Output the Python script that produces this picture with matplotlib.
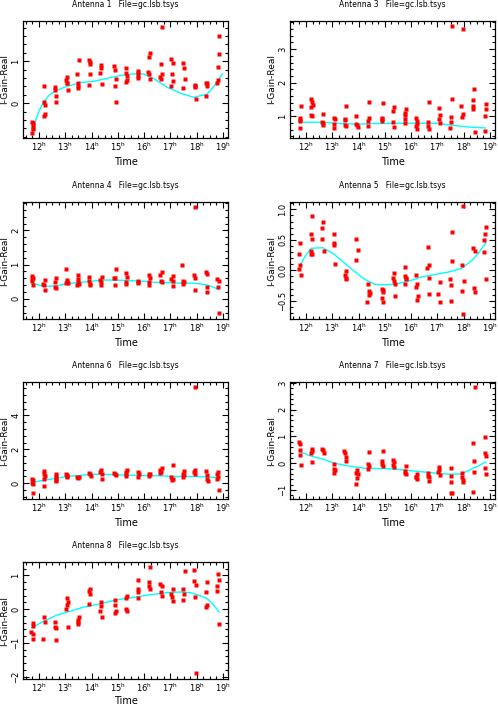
import matplotlib
matplotlib.use("Agg")
import matplotlib.pyplot as plt
from matplotlib.ticker import MultipleLocator, AutoMinorLocator

# ---- data (time in hours, gain) ----
t1 = [11.73, 11.77, 11.76, 11.78, 11.73, 11.77,
      12.19, 12.17, 12.23, 12.22, 12.17,
      12.61, 12.62, 12.65, 12.65,
      13.08, 13.03, 13.07, 13.10, 13.06,
      13.53, 13.45, 13.48, 13.50, 13.49,
      13.90, 13.95, 13.94, 13.94, 13.91,
      14.36, 14.37, 14.32, 14.38,
      14.87, 14.88, 14.92, 14.89, 14.92,
      15.32, 15.30, 15.36, 15.31, 15.34,
      15.76, 15.77, 15.76, 15.78,
      16.22, 16.18, 16.15, 16.19, 16.24,
      16.66, 16.64, 16.66, 16.60, 16.64,
      17.04, 17.10, 17.07, 17.10, 17.03,
      17.49, 17.52, 17.54, 17.48,
      17.92, 17.94, 17.97, 17.92,
      18.36, 18.38, 18.37, 18.39,
      18.84, 18.83, 18.80, 18.80, 18.76]
v1 = [-0.44, -0.48, -0.58, -0.62, -0.71, -0.52,
      0.41, 0.02, -0.05, -0.25, -0.31,
      0.39, 0.32, 0.16, 0.02,
      0.62, 0.56, 0.49, 0.32, 0.48,
      1.02, 0.70, 0.48, 0.41, 0.37,
      1.02, 0.98, 0.94, 0.70, 0.44,
      0.91, 0.83, 0.72, 0.46,
      0.88, 0.78, 0.58, 0.41, 0.03,
      0.83, 0.73, 0.56, 0.50, 0.65,
      0.77, 0.73, 0.64, 0.59,
      1.19, 1.10, 0.75, 0.70, 0.57,
      1.81, 0.94, 0.70, 0.63, 0.57,
      1.05, 0.96, 0.70, 0.52, 0.40,
      0.97, 0.85, 0.57, 0.36,
      0.44, 0.38, 0.11, 0.41,
      0.47, 0.42, 0.17, 0.48,
      1.60, 1.17, 0.87, 0.56, 0.48]
fit1_t = [11.73, 11.83, 12.0, 12.19, 12.4, 12.62, 13.0, 13.55, 14.06, 14.57,
          15.08, 15.59, 15.97, 16.36, 16.87, 17.38, 17.89, 18.14, 18.39, 18.65, 18.98]
fit1_v = [-0.70, -0.48, -0.18, 0.04, 0.20, 0.29, 0.39, 0.49, 0.52, 0.59,
          0.66, 0.70, 0.70, 0.59, 0.38, 0.24, 0.14, 0.18, 0.21, 0.40, 0.70]

t3 = [11.76, 11.77, 11.78, 11.81, 11.77,
      12.17, 12.22, 12.25, 12.19, 12.19, 12.23,
      12.64, 12.62, 12.65, 12.66,
      13.07, 13.11, 13.07, 13.06,
      13.52, 13.50, 13.48, 13.49, 13.52,
      13.92, 13.92, 13.96, 13.95,
      14.38, 14.41, 14.36, 14.37,
      14.94, 14.90, 14.88, 14.90,
      15.36, 15.32, 15.32, 15.35,
      15.82, 15.76, 15.78, 15.75, 15.77,
      16.20, 16.23, 16.19, 16.24, 16.23,
      16.66, 16.64, 16.65, 16.68,
      17.06, 17.08, 17.06, 17.10,
      17.54, 17.54, 17.50, 17.50, 17.48,
      17.99, 17.91, 17.96, 17.92,
      18.39, 18.36, 18.37, 18.36, 18.42,
      18.85, 18.83, 18.80, 18.80]
v3 = [0.90, 0.94, 0.86, 1.30, 0.64,
      1.52, 1.42, 1.34, 1.26, 1.04, 1.02,
      1.06, 0.84, 0.74, 0.79,
      0.94, 0.91, 0.78, 0.66,
      1.30, 0.92, 0.89, 0.74, 0.70,
      1.01, 0.77, 0.68, 0.73,
      1.42, 0.95, 0.86, 0.72,
      1.40, 0.94, 0.86, 0.92,
      1.27, 1.16, 0.84, 0.68,
      1.22, 1.10, 1.05, 0.92, 0.81,
      0.94, 0.86, 0.72, 0.63, 0.76,
      1.42, 0.84, 0.72, 0.62,
      1.24, 1.04, 0.91, 0.80,
      3.69, 1.52, 0.97, 0.84, 0.66,
      3.61, 1.31, 1.08, 0.97,
      1.81, 1.48, 1.30, 1.22, 0.52,
      1.36, 1.22, 1.00, 0.57]
fit3_t = [11.75, 11.81, 12.7, 13.06, 13.96, 14.47, 15.49, 17.02, 17.40, 17.92, 18.3, 18.82]
fit3_v = [0.80, 0.82, 0.82, 0.79, 0.76, 0.78, 0.79, 0.79, 0.74, 0.70, 0.67, 0.65]

t4 = [11.73, 11.76, 11.75, 11.72, 11.78,
      12.15, 12.20, 12.22, 12.23,
      12.65, 12.62, 12.61, 12.64,
      13.04, 13.06, 13.08, 13.02, 13.12,
      13.48, 13.50, 13.49, 13.52, 13.45,
      13.92, 13.91, 13.95, 13.94,
      14.39, 14.33, 14.36, 14.37,
      14.92, 14.89, 14.88, 14.87,
      15.32, 15.35, 15.31, 15.30,
      15.76, 15.78, 15.75,
      16.19, 16.23, 16.20, 16.18,
      16.66, 16.62, 16.64, 16.68,
      17.08, 17.04, 17.10, 17.08,
      17.45, 17.49, 17.53, 17.49,
      17.94, 17.91, 17.95, 17.94,
      18.36, 18.39, 18.38, 18.39,
      18.79, 18.83, 18.82, 18.84]
v4 = [0.67, 0.60, 0.52, 0.57, 0.39,
      0.44, 0.41, 0.54, 0.27,
      0.61, 0.49, 0.35, 0.31,
      0.86, 0.54, 0.49, 0.46, 0.47,
      0.70, 0.57, 0.49, 0.43, 0.41,
      0.63, 0.52, 0.44, 0.41,
      0.64, 0.54, 0.49, 0.41,
      0.86, 0.62, 0.41, 0.60,
      0.75, 0.65, 0.50, 0.43,
      0.52, 0.49, 0.45,
      0.70, 0.61, 0.49, 0.41,
      0.77, 0.69, 0.52, 0.50,
      0.67, 0.57, 0.52, 0.37,
      0.99, 0.51, 0.48, 0.43,
      2.68, 0.71, 0.60, 0.25,
      0.79, 0.72, 0.35, 0.19,
      0.57, 0.52, 0.35, -0.42]
fit4_t = [11.73, 12.15, 12.6, 13.04, 13.55, 14.06, 14.57, 15.2, 15.83, 16.47, 17.24, 17.87, 18.37, 18.84]
fit4_v = [0.46, 0.37, 0.37, 0.44, 0.48, 0.52, 0.55, 0.54, 0.52, 0.48, 0.46, 0.46, 0.41, 0.28]

t5 = [11.73, 11.77, 11.75, 11.81, 11.78,
      12.23, 12.18, 12.22, 12.20, 12.24, 12.17,
      12.65, 12.62, 12.61, 12.68,
      13.08, 13.06, 13.07, 13.11,
      13.52, 13.48, 13.53, 13.52,
      13.92, 13.97, 13.92,
      14.37, 14.39, 14.42, 14.41, 14.33,
      14.88, 14.93, 14.90, 14.94, 14.92,
      15.35, 15.32, 15.34, 15.38, 15.38,
      15.77, 15.75, 15.80, 15.82, 15.77,
      16.20, 16.22, 16.19, 16.25, 16.23,
      16.64, 16.66, 16.62, 16.66, 16.68,
      17.04, 17.11, 17.08,
      17.54, 17.57, 17.48, 17.52, 17.50,
      17.97, 17.92, 18.00, 17.94, 17.96,
      18.36, 18.41, 18.38, 18.41,
      18.85, 18.82, 18.79, 18.79, 18.84]
v5 = [0.02, 0.45, 0.27, -0.08, 0.09,
      0.89, 0.59, 0.51, 0.27, 0.26, 0.32,
      0.79, 0.69, 0.52, 0.32,
      0.59, 0.45, 0.41, 0.11,
      -0.02, -0.08, -0.12, -0.14,
      0.52, 0.34, 0.17,
      -0.22, -0.34, -0.37, -0.41, -0.52,
      -0.31, -0.36, -0.45, -0.52, -0.33,
      -0.04, -0.12, -0.17, -0.22, -0.43,
      0.05, -0.09, -0.13, -0.15, -0.22,
      -0.08, -0.22, -0.27, -0.42, -0.48,
      0.38, 0.09, 0.04, -0.13, -0.39,
      -0.39, -0.19, -0.52,
      0.62, 0.16, -0.15, -0.24, -0.51,
      1.06, 0.09, -0.18, -0.34, -0.72,
      0.37, 0.32, -0.29, -0.35,
      0.71, 0.59, 0.49, 0.30, -0.15]
fit5_t = [11.75, 11.94, 12.19, 12.64, 13.08, 13.46, 13.85, 14.23, 14.61, 14.87,
          15.38, 15.89, 16.39, 16.90, 17.41, 17.92, 18.31, 18.56, 18.84]
fit5_v = [0.06, 0.21, 0.36, 0.37, 0.26, 0.12, -0.02, -0.15, -0.23, -0.24,
          -0.23, -0.18, -0.11, -0.07, -0.03, 0.03, 0.16, 0.28, 0.45]

t6 = [11.73, 11.77, 11.75, 11.78, 11.78,
      12.19, 12.18, 12.23, 12.19, 12.17,
      12.64, 12.65, 12.64, 12.66, 12.65,
      13.03, 13.08, 13.08, 13.06,
      13.46, 13.50, 13.53,
      13.91, 13.95, 13.96,
      14.36, 14.33, 14.38, 14.41,
      14.85, 14.89, 14.92,
      15.35, 15.31, 15.30, 15.32,
      15.75, 15.80, 15.78,
      16.19, 16.23, 16.20,
      16.66, 16.62, 16.65, 16.61,
      17.10, 17.04, 17.08, 17.07,
      17.50, 17.48, 17.52, 17.49,
      17.95, 17.94, 17.91, 17.95,
      18.36, 18.39, 18.39, 18.41,
      18.82, 18.78, 18.80, 18.79, 18.84]
v6 = [0.24, 0.16, 0.0, -0.08, -0.59,
      0.71, 0.51, 0.43, 0.27, -0.20,
      0.51, 0.43, 0.31, 0.12, 0.20,
      0.55, 0.47, 0.39, 0.41,
      0.39, 0.33, 0.37,
      0.59, 0.51, 0.43,
      0.78, 0.67, 0.55, 0.27,
      0.59, 0.53, 0.49,
      0.75, 0.67, 0.55, 0.43,
      0.67, 0.51, 0.39,
      0.55, 0.51, 0.43,
      0.90, 0.78, 0.67, 0.59,
      1.08, 0.39, 0.27, 0.20,
      0.71, 0.55, 0.47, 0.35,
      5.69, 0.78, 0.67, 0.55,
      0.71, 0.47, 0.24, 0.12,
      0.67, 0.55, 0.39, 0.24, -0.39]
fit6_t = [11.73, 12.15, 12.6, 13.04, 13.55, 14.06, 14.69, 15.32, 15.96, 16.6, 17.24, 17.87, 18.38, 18.84]
fit6_v = [0.04, 0.16, 0.27, 0.39, 0.45, 0.53, 0.51, 0.47, 0.45, 0.43, 0.39, 0.39, 0.37, 0.31]

t7 = [11.72, 11.77, 11.76, 11.77, 11.81,
      12.23, 12.22, 12.19, 12.23,
      12.62, 12.65, 12.68,
      13.06, 13.08, 13.11, 13.07,
      13.45, 13.50, 13.52, 13.53,
      13.94, 13.92, 13.96, 13.94, 13.92,
      14.38, 14.37, 14.39, 14.36,
      14.94, 14.90, 14.88, 14.92,
      15.30, 15.34, 15.31, 15.36,
      15.82, 15.75, 15.77, 15.81,
      16.22, 16.20, 16.18, 16.24,
      16.65, 16.64, 16.66, 16.69,
      17.07, 17.06, 17.03, 17.11,
      17.50, 17.50, 17.53, 17.52, 17.55,
      17.94, 17.95, 17.97, 17.99,
      18.43, 18.37, 18.38, 18.39, 18.36,
      18.80, 18.80, 18.84, 18.82, 18.85]
v7 = [0.80, 0.71, 0.50, 0.32, -0.05,
      0.55, 0.47, 0.37, 0.04,
      0.55, 0.50, 0.37,
      -0.04, -0.22, -0.27, -0.35,
      0.46, 0.37, 0.22, 0.07,
      -0.25, -0.35, -0.42, -0.56, -0.77,
      0.43, -0.02, -0.12, -0.22,
      0.47, 0.09, -0.02, -0.12,
      0.12, 0.05, -0.06, -0.15,
      -0.10, -0.30, -0.35, -0.40,
      -0.40, -0.50, -0.53, -0.60,
      -0.37, -0.47, -0.53, -0.66,
      -0.15, -0.27, -0.32, -0.45,
      -0.19, -0.47, -0.70, -1.12, -1.12,
      -0.35, -0.50, -0.62, -0.72,
      2.86, 0.77, 0.07, -0.32, -1.08,
      0.97, 0.37, 0.27, -0.19, -0.40]
fit7_t = [11.75, 12.19, 12.64, 13.08, 13.59, 14.23, 14.87, 15.38, 15.89, 16.39,
          16.90, 17.41, 17.92, 18.31, 18.56, 18.84]
fit7_v = [0.43, 0.27, 0.15, 0.0, -0.10, -0.19, -0.20, -0.22, -0.27, -0.32,
          -0.37, -0.41, -0.40, -0.21, -0.10, 0.05]

t8 = [11.76, 11.71, 11.76, 11.78, 11.76,
      12.18, 12.24, 12.15,
      12.61, 12.60, 12.65, 12.66,
      13.06, 13.10, 13.06, 13.04, 13.10,
      13.53, 13.50, 13.48, 13.50,
      13.94, 13.91, 13.95, 13.92,
      14.36, 14.37, 14.32, 14.39,
      14.90, 14.88, 14.92, 14.89,
      15.34, 15.31, 15.30, 15.34,
      15.76, 15.78, 15.77, 15.75,
      16.23, 16.17, 16.20, 16.22,
      16.62, 16.66, 16.65, 16.68,
      17.10, 17.04, 17.07, 17.10,
      17.54, 17.49, 17.50, 17.46,
      17.91, 17.91, 17.96, 17.94, 17.97,
      18.39, 18.36, 18.38, 18.36,
      18.80, 18.83, 18.76, 18.79, 18.84]
v8 = [-0.42, -0.69, -0.73, -0.87, -0.49,
      -0.24, -0.37, -0.88,
      -0.39, -0.54, -0.57, -0.91,
      0.33, 0.22, 0.12, 0.0, -0.52,
      -0.24, -0.32, -0.39, -0.43,
      0.59, 0.53, 0.45, 0.15,
      0.21, 0.10, -0.06, -0.22,
      0.28, 0.12, -0.06, -0.10,
      0.38, 0.33, 0.0, -0.06,
      0.86, 0.59, 0.51, 0.32,
      1.24, 0.81, 0.69, 0.59,
      0.76, 0.69, 0.51, 0.39,
      0.59, 0.45, 0.37, 0.24,
      1.12, 0.61, 0.46, 0.26,
      1.15, 0.83, 0.73, 0.36, -1.89,
      0.81, 0.51, 0.12, 0.06,
      1.03, 0.86, 0.69, 0.53, -0.45]
fit8_t = [11.73, 12.15, 12.66, 13.17, 13.68, 14.32, 14.96, 15.59, 16.23, 16.87,
          17.38, 17.76, 18.01, 18.39, 18.65, 18.85]
fit8_v = [-0.54, -0.37, -0.18, -0.06, 0.06, 0.16, 0.28, 0.35, 0.43, 0.49,
          0.51, 0.49, 0.43, 0.32, 0.12, -0.08]

antennas = [1, 3, 4, 5, 6, 7, 8]
times = [t1, t3, t4, t5, t6, t7, t8]
gains = [v1, v3, v4, v5, v6, v7, v8]
fit_times = [fit1_t, fit3_t, fit4_t, fit5_t, fit6_t, fit7_t, fit8_t]
fit_gains = [fit1_v, fit3_v, fit4_v, fit5_v, fit6_v, fit7_v, fit8_v]
y_limits = [(-0.83, 1.96), (0.35, 3.84), (-0.59, 2.83), (-0.80, 1.12),
            (-0.94, 5.98), (-1.34, 3.04), (-2.07, 1.40)]
y_steps = [1, 1, 1, 0.5, 2, 1, 1]
hour_ticks = [12, 13, 14, 15, 16, 17, 18, 19]

plt.rcParams['font.family'] = 'DejaVu Sans'
plt.rcParams['mathtext.default'] = 'regular'

W, H = 498, 705
fig = plt.figure(figsize=(W / 100, H / 100), dpi=100)

col_left = [23, 290]
row_bottom = [138, 319, 499, 679]
ax_w, ax_h = 205, 117

for i, ant in enumerate(antennas):
    col, row = i % 2, i // 2
    ax = fig.add_axes([col_left[col] / W, 1 - row_bottom[row] / H, ax_w / W, ax_h / H])

    ax.plot(fit_times[i], fit_gains[i], color='#00ffff', lw=1.0, zorder=2)
    ax.plot(times[i], gains[i], 's', color='#ff0000', ms=2.3, mec='none', zorder=3)

    ax.set_xlim(11.39, 19.19)
    ax.set_ylim(*y_limits[i])
    ax.set_xticks(hour_ticks)
    ax.set_xticklabels([f"{h}$^{{h}}$" for h in hour_ticks], fontsize=6)
    ax.xaxis.set_minor_locator(MultipleLocator(0.25))
    ax.yaxis.set_major_locator(MultipleLocator(y_steps[i]))
    ax.yaxis.set_minor_locator(AutoMinorLocator(5))
    ax.tick_params(which='both', direction='in', top=True, right=True, width=0.8)
    ax.tick_params(which='major', length=4, pad=2)
    ax.tick_params(which='minor', length=2)
    for lab in ax.get_yticklabels():
        lab.set_rotation(90)
        lab.set_verticalalignment('center')
        lab.set_fontsize(6)
    for sp in ax.spines.values():
        sp.set_linewidth(0.9)

    ax.set_title(f"Antenna {ant}   File=gc.lsb.tsys", fontsize=5.5, pad=10)
    ax.set_xlabel("Time", fontsize=7, labelpad=3 if row < 3 else 1)
    ax.set_ylabel("I-Gain-Real", fontsize=6.5, labelpad=1.5)

fig.savefig("out.png", dpi=100)
